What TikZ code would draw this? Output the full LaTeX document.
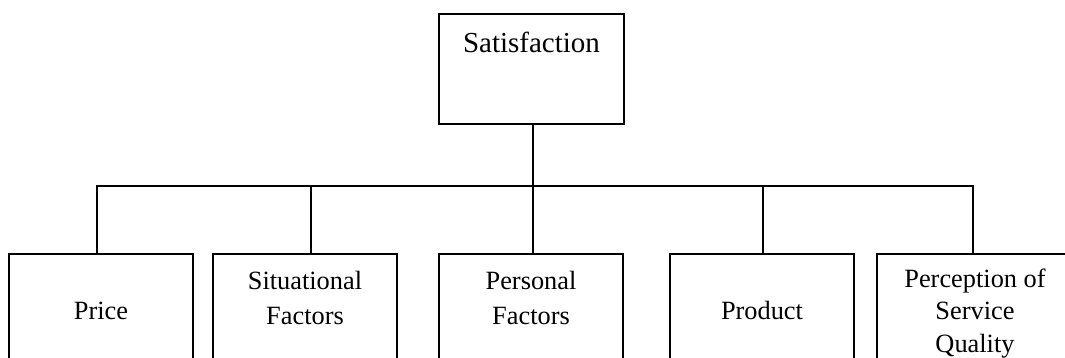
\documentclass[tikz,border=0pt]{standalone}
\usepackage{fontspec}
\setmainfont{Liberation Serif}
\usetikzlibrary{calc}

\begin{document}
\begin{tikzpicture}
  [x=0.02cm,y=-0.02cm,line width=1.1pt,
   box/.style={draw,rectangle,inner sep=0pt,minimum width=3.68cm,minimum height=2.6cm,anchor=north},
   txt/.style={align=center,inner sep=0pt,anchor=base,font=\fontsize{15}{19.5}\selectfont}]
  \useasboundingbox (0,0) rectangle (1065,358);
  \clip (0,0) rectangle (1065,358);

  % the top box
  \node[box,minimum width=3.7cm,minimum height=2.2cm] (sat) at (531.5,13) {};
  \node[txt,font=\fontsize{16.5}{20}\selectfont] (satlbl) at (531.5,53) {Satisfaction};

  % the five factor boxes
  \node[box] (p1) at (101,253) {};
  \node[box] (p2) at (305,253) {};
  \node[box] (p3) at (531,253) {};
  \node[box] (p4) at (762,253) {};
  \node[box,minimum width=3.92cm] (p5) at (975,253) {};

  % labels (base = last line)
  \node[txt] (p1lbl) at (101,319) {Price};
  \node[txt] (p2lbl) at (305,324) {Situational\\Factors};
  \node[txt] (p3lbl) at (531,324) {Personal\\Factors};
  \node[txt] (p4lbl) at (762,319) {Product};
  \node[txt,font=\fontsize{15}{18.3}\selectfont] (p5lbl) at (975,352) {Perception of\\Service\\Quality};

  \coordinate (bus) at ($(sat.south)+(1.5,61)$);
  \draw ($(sat.south)+(1.5,0)$) -- (bus);
  \foreach \b/\dx in {p1/-4,p2/6,p3/2,p4/1,p5/-2}
    \draw (bus) -| ($(\b.north)+(\dx,0)$);

\end{tikzpicture}
\end{document}
